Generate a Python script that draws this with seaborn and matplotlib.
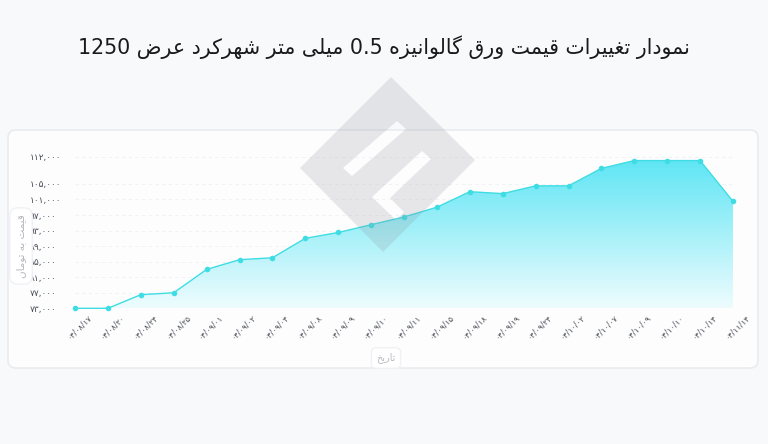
import re
import numpy as np
import matplotlib
matplotlib.use("Agg")
import matplotlib.pyplot as plt
import matplotlib.transforms as mtransforms
from matplotlib.colors import LinearSegmentedColormap
from matplotlib.patches import FancyBboxPatch, PathPatch
from matplotlib.path import Path
import seaborn as sns

# data
dates = ['04/08/17', '04/08/20', '04/08/24', '04/08/25', '04/09/01', '04/09/02',
         '04/09/04', '04/09/08', '04/09/09', '04/09/10', '04/09/11', '04/09/15',
         '04/09/18', '04/09/19', '04/09/24', '04/10/02', '04/10/07', '04/10/09',
         '04/10/10', '04/10/14', '04/11/14']
prices = [73000, 73000, 76500, 77000, 83000, 85500, 86000, 91000, 92500, 94500,
          96500, 99000, 103000, 102500, 104500, 104500, 109000, 111000, 111000,
          111000, 100500]
y_ticks = [73000, 77000, 81000, 85000, 89000, 93000, 97000, 101000, 105000, 112000]

title = "نمودار تغییرات قیمت ورق گالوانیزه 0.5 میلی متر شهرکرد عرض 1250"
y_title = "قیمت به تومان"
x_title = "تاریخ"

# matplotlib has no arabic shaping, do it by hand with presentation forms
FORMS = {
    'ا': ('\uFE8D', '\uFE8E', None, None),
    'ب': ('\uFE8F', '\uFE90', '\uFE91', '\uFE92'),
    'ت': ('\uFE95', '\uFE96', '\uFE97', '\uFE98'),
    'خ': ('\uFEA5', '\uFEA6', '\uFEA7', '\uFEA8'),
    'د': ('\uFEA9', '\uFEAA', None, None),
    'ر': ('\uFEAD', '\uFEAE', None, None),
    'ز': ('\uFEAF', '\uFEB0', None, None),
    'ش': ('\uFEB5', '\uFEB6', '\uFEB7', '\uFEB8'),
    'ض': ('\uFEBD', '\uFEBE', '\uFEBF', '\uFEC0'),
    'ع': ('\uFEC9', '\uFECA', '\uFECB', '\uFECC'),
    'غ': ('\uFECD', '\uFECE', '\uFECF', '\uFED0'),
    'ق': ('\uFED5', '\uFED6', '\uFED7', '\uFED8'),
    'ل': ('\uFEDD', '\uFEDE', '\uFEDF', '\uFEE0'),
    'م': ('\uFEE1', '\uFEE2', '\uFEE3', '\uFEE4'),
    'ن': ('\uFEE5', '\uFEE6', '\uFEE7', '\uFEE8'),
    'ه': ('\uFEE9', '\uFEEA', '\uFEEB', '\uFEEC'),
    'و': ('\uFEED', '\uFEEE', None, None),
    'ی': ('\uFBFC', '\uFBFD', '\uFBFE', '\uFBFF'),
    'ک': ('\uFB8E', '\uFB8F', '\uFB90', '\uFB91'),
    'گ': ('\uFB92', '\uFB93', '\uFB94', '\uFB95'),
}


def fa(text):
    out = []
    for i, ch in enumerate(text):
        if ch not in FORMS:
            out.append(ch)
            continue
        iso, fin, ini, med = FORMS[ch]
        prev = text[i - 1] if i > 0 else ''
        nxt = text[i + 1] if i + 1 < len(text) else ''
        jp = prev in FORMS and FORMS[prev][2] is not None
        jn = ini is not None and nxt in FORMS
        out.append(med if jp and jn else fin if jp else ini if jn else iso)
    s = ''.join(out)[::-1]
    return re.sub(r'[0-9.,/\u06F0-\u06F9]+', lambda m: m.group(0)[::-1], s)


fa_digits = str.maketrans('0123456789', '۰۱۲۳۴۵۶۷۸۹')

sns.set_theme(style="white")
plt.rcParams['font.family'] = ['DejaVu Sans']

W, H = 768, 444
fig = plt.figure(figsize=(W / 100, H / 100), dpi=100)
fig.patch.set_facecolor('#f8f9fb')
px = mtransforms.Affine2D().scale(1, -1).translate(0, H)  # pixel coords, y down

# card
card = FancyBboxPatch((8, 130), 750, 238, boxstyle="round,pad=0,rounding_size=8",
                      transform=px, facecolor='#fdfdfe', edgecolor='#e9ebef',
                      linewidth=1.2, zorder=-1)
fig.add_artist(card)

ax = fig.add_axes([75 / W, 1 - 308.3 / H, 658 / W, 151.6 / H])
ax.set_facecolor('none')

x = np.arange(len(prices))
ymin, ymax = 73000, 112000

# gradient area under the line
poly = ax.fill_between(x, prices, ymin, facecolor='none', edgecolor='none')
cmap = LinearSegmentedColormap.from_list('g', ['#eefcfe', '#5ce5f4'])
grad = np.linspace(0, 1, 256).reshape(-1, 1)
im = ax.imshow(grad, extent=[x[0], x[-1], ymin, ymax], origin='lower',
               aspect='auto', cmap=cmap, zorder=1)
im.set_clip_path(poly.get_paths()[0], transform=ax.transData)

sns.lineplot(x=x, y=prices, ax=ax, color='#3fdde3', linewidth=1,
             marker='o', markersize=4, markeredgewidth=0, zorder=3, clip_on=False)

ax.set_xlim(x[0], x[-1])
ax.set_ylim(ymin, ymax)
ax.set_yticks(y_ticks)
ax.set_yticklabels([f"{v:,}".translate(fa_digits) for v in y_ticks],
                   fontsize=6.5, color='#484c54', ha='left')
ax.set_xticks(x)
ax.set_xticklabels([d.translate(fa_digits) for d in dates], rotation=45,
                   fontsize=5.8, color='#484c54', ha='center', va='top')
ax.tick_params(axis='y', length=0, pad=32.5)
ax.tick_params(axis='x', length=0, pad=3)
for lab in ax.get_xticklabels():
    lab.set_transform(lab.get_transform() + mtransforms.ScaledTranslation(4 / 100, 0, fig.dpi_scale_trans))
ax.grid(axis='y', color='#eef0f3', linewidth=0.6, linestyle=(0, (4, 4)))
ax.grid(axis='x', visible=False)
sns.despine(ax=ax, left=True, bottom=True)
ax.set_xlabel('')
ax.set_ylabel('')

# axis titles in little pills
fig.text(21 / W, 1 - 246 / H, fa(y_title), rotation=90, ha='center', va='center',
         fontsize=7.5, color='#b3b6bc',
         bbox=dict(boxstyle='round,pad=0.6,rounding_size=0.8', facecolor='white',
                   edgecolor='#f0f1f4'))
fig.text(386 / W, 1 - 358 / H, fa(x_title), ha='center', va='center',
         fontsize=7, color='#b9bcc2',
         bbox=dict(boxstyle='round,pad=0.5,rounding_size=0.5', facecolor='white',
                   edgecolor='#f0f1f4'))

fig.text(384 / W, 1 - 47 / H, fa(title), ha='center', va='center',
         fontsize=14.8, color='#1a1a1a')

# watermark logo
outer = [(391, 77), (475, 160), (383, 252), (300, 168), (391, 77)]
hole1 = [(397, 121), (406, 129), (352, 176), (343, 168), (397, 121)]
hole2 = [(422, 151), (431, 159), (390, 198), (404, 212), (396, 220), (372, 197), (422, 151)]
verts, codes = [], []
for ring in (outer, hole1[::-1], hole2[::-1]):
    verts += ring
    codes += [Path.MOVETO] + [Path.LINETO] * (len(ring) - 2) + [Path.CLOSEPOLY]
logo = PathPatch(Path(verts, codes), transform=px, facecolor='#8e8e98',
                 edgecolor='none', alpha=0.2, zorder=5)
fig.add_artist(logo)

fig.savefig('out.png', dpi=100, facecolor=fig.get_facecolor())
